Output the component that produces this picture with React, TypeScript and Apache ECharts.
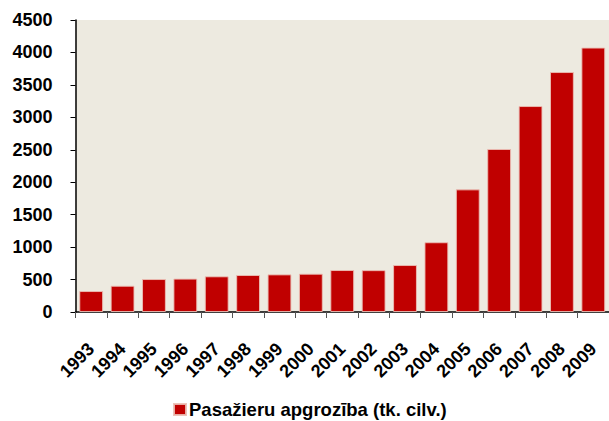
import React, { useEffect, useRef } from "react";
import * as echarts from "echarts";

const years = ["1993","1994","1995","1996","1997","1998","1999","2000","2001","2002","2003","2004","2005","2006","2007","2008","2009"];
const passengers = [323, 405, 508, 515, 550, 570, 580, 590, 647, 645, 724, 1075, 1890, 2512, 3174, 3698, 4075];
const seriesName = "Pasažieru apgrozība (tk. cilv.)";

export default function App() {
  const ref = useRef<HTMLDivElement>(null);
  useEffect(() => {
    document.body.style.margin = "0";
    if (!ref.current) return;
    const chart = echarts.init(ref.current, null, { renderer: "svg" });
    const font = "'Liberation Sans', Arial, sans-serif";
    chart.setOption({
      animation: false,
      backgroundColor: "#ffffff",
      textStyle: { fontFamily: font },
      grid: {
        left: 75.5,
        right: -2,
        top: 20,
        bottom: 109,
        containLabel: false,
        show: true,
        backgroundColor: "#EDEAE0",
        borderWidth: 0,
      },
      legend: {
        data: [seriesName],
        top: 395,
        left: 168,
        icon: "rect",
        itemWidth: 12,
        itemHeight: 11,
        itemGap: 4,
        textStyle: { fontFamily: font, fontWeight: "bold", fontSize: 18.5, color: "#000", padding: [0, 0, 0, -2] },
      },
      xAxis: {
        type: "category",
        data: years,
        axisLine: { lineStyle: { color: "#000", width: 1.5 } },
        axisTick: { show: true, length: 6, inside: false, lineStyle: { color: "#555" } },
        axisLabel: {
          rotate: 45,
          margin: 34,
          fontFamily: font,
          fontWeight: "bold",
          fontSize: 18,
          color: "#000",
          interval: 0,
        },
      },
      yAxis: {
        type: "value",
        min: 0,
        max: 4500,
        interval: 500,
        splitLine: { show: false },
        axisLine: { show: true, lineStyle: { color: "#000", width: 1.5 } },
        axisTick: { show: true, length: 5, lineStyle: { color: "#000" } },
        axisLabel: {
          margin: 23,
          fontFamily: font,
          fontWeight: "bold",
          fontSize: 18,
          color: "#000",
          formatter: (v: number) => String(v),
        },
      },
      series: [
        {
          name: seriesName,
          type: "bar",
          data: passengers,
          barCategoryGap: "24%",
          itemStyle: {
            color: "#C00000",
            borderColor: "rgba(235,190,180,0.9)",
            borderWidth: 1,
          },
        },
      ],
    });
    return () => chart.dispose();
  }, []);
  return <div ref={ref} style={{ width: 609, height: 421 }} />;
}
